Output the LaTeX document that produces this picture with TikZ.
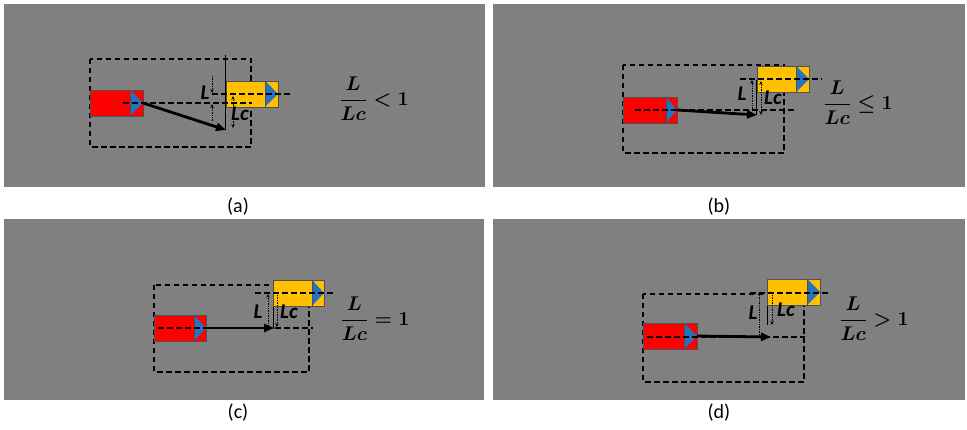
\documentclass[tikz,border=0pt]{standalone}
\usepackage{amsmath}
\usepackage{graphicx}
\usepackage{fontspec}
\newfontfamily\capfont{Carlito}
\usetikzlibrary{arrows.meta}
\definecolor{bggray}{HTML}{808080}
\definecolor{vred}{HTML}{FF0000}
\definecolor{vyel}{HTML}{FFC000}
\definecolor{vblue}{HTML}{2472C0}
\definecolor{vedge}{HTML}{505050}
\tikzset{
  panel/.style={fill=bggray, draw=none},
  veh/.style={draw=vedge, line width=0.8pt, minimum height=26pt, anchor=north west, inner sep=0pt, outer sep=0pt},
  triedge/.style={draw=vedge, line width=0.8pt},
  dline/.style={dash pattern=on 5.5pt off 3.5pt, line width=1.2pt},
  move/.style={line width=2.8pt, -{Triangle[length=10pt,width=8pt]}},
  vline/.style={line width=1pt},
  dimline/.style={line width=0.7pt, densely dotted},
  dimtip/.style={-{Stealth[length=4pt,width=3.5pt]}},
  lab/.style={font=\capfont\bfseries\itshape\fontsize{21}{21}\selectfont, inner sep=0pt},
  frm/.style={font=\fontsize{17.28}{20}\selectfont, inner sep=0pt},
  captext/.style={font=\capfont\fontsize{20}{20}\selectfont, inner sep=0pt}
}
\newcommand\myveh[6]{%
  \node[veh, fill=#5, minimum width=#4pt] (#1) at (#2,#3) {};
  \fill[vblue] ([xshift=-#6pt]#1.north east) -- ([xshift=-#6pt]#1.south east) -- (#1.east) -- cycle;
  \draw[triedge] ([xshift=-#6pt]#1.north east) -- ([xshift=-#6pt]#1.south east);
  \draw[triedge] (#1.north west) rectangle (#1.south east);
}
\newcommand\myfrm[1]{\scalebox{1.15}{$\displaystyle\boldsymbol{#1}$}}
\begin{document}
\begin{tikzpicture}[x=1pt,y=-1pt]
\useasboundingbox (0,0) rectangle (967,430);
\fill[white] (0,0) rectangle (967,430);
% panels
\fill[panel] (4,4) rectangle (485,187);
\fill[panel] (493,4) rectangle (965,187);
\fill[panel] (4,219) rectangle (484,400);
\fill[panel] (493,219) rectangle (965,400);
% captions
\node[captext] (ca) at (238,207) {(a)};
\node[captext] (cb) at (719,207) {(b)};
\node[captext] (cc) at (238,413) {(c)};
\node[captext] (cd) at (719,413) {(d)};

%%%%%%%% (a)
\draw[dline] (90,59) rectangle (251,147);
\draw[vline] (225,55) -- (225,130);
\myveh{ra}{90}{90}{53}{vred}{13}
\myveh{ya}{226}{81}{52}{vyel}{13}
\coordinate (ra1) at (123,103); \coordinate (ra2) at (252,103);
\coordinate (ya1) at (212,94); \coordinate (ya2) at (292,94);
\draw[dline] (ra1) -- (ra2);
\draw[dline] (ya1) -- (ya2);
\coordinate (ea) at (226,130);
\draw[move] (ra.east) -- (ea);
\coordinate (la1) at (212,76); \coordinate (la2) at (212,93);
\coordinate (la3) at (212,121); \coordinate (la4) at (212,104);
\draw[dimline,dimtip] (la1) -- (la2);
\draw[dimline,dimtip] (la3) -- (la4);
\coordinate (lca1) at (233,96); \coordinate (lca2) at (233,128);
\draw[dimline,{Stealth[length=4pt,width=3.5pt]}-{Stealth[length=4pt,width=3.5pt]}] (lca1) -- (lca2);
\node[lab] (La) at (205,93) {L};
\node[lab] (Lca) at (240,114) {Lc};
\node[frm] (fa) at (374,99) {\myfrm{\frac{L}{Lc}<1}};

%%%%%%%% (b)
\draw[dline] (623,65) rectangle (784,153);
\draw[vline] (756,80) -- (756,115);
\myveh{rb}{623}{97}{54}{vred}{11}
\myveh{yb}{757}{66}{52}{vyel}{13}
\coordinate (rb1) at (635,110); \coordinate (rb2) at (797,110);
\coordinate (yb1) at (740,79); \coordinate (yb2) at (822,79);
\draw[dline] (rb1) -- (rb2);
\draw[dline] (yb1) -- (yb2);
\coordinate (eb) at (757,115);
\draw[move] (rb.east) -- (eb);
\coordinate (lb1) at (752,109); \coordinate (lb2) at (752,80);
\draw[dimline,dimtip] (lb1) -- (lb2);
\coordinate (lcb1) at (761,81); \coordinate (lcb2) at (761,115);
\draw[dimline,{Stealth[length=4pt,width=3.5pt]}-{Stealth[length=4pt,width=3.5pt]}] (lcb1) -- (lcb2);
\node[lab] (Lb) at (742,94) {L};
\node[lab] (Lcb) at (773,98) {Lc};
\node[frm] (fb) at (858,103) {\myfrm{\frac{L}{Lc}\leq 1}};

%%%%%%%% (c)
\draw[dline] (154,285) rectangle (309,372);
\draw[vline] (273,305) -- (273,329);
\myveh{rc}{154}{315}{52}{vred}{12}
\myveh{yc}{273}{280}{51}{vyel}{12}
\coordinate (rc1) at (158,328); \coordinate (rc2) at (313,328);
\coordinate (yc1) at (255,293); \coordinate (yc2) at (334,293);
\draw[dline] (rc1) -- (rc2);
\draw[dline] (yc1) -- (yc2);
\coordinate (ec) at (274,328);
\draw[move] (rc.east) -- (ec);
\coordinate (lc1) at (268,329); \coordinate (lc2) at (268,294);
\draw[dimline,dimtip] (lc1) -- (lc2);
\coordinate (lcc1) at (277,295); \coordinate (lcc2) at (277,327);
\draw[dimline,dimtip] (lcc1) -- (lcc2);
\node[lab] (Lc) at (258,312) {L};
\node[lab] (Lcc) at (289,312) {Lc};
\node[frm] (fc) at (375,319) {\myfrm{\frac{L}{Lc}=1}};

%%%%%%%% (d)
\draw[dline] (643,294) rectangle (804,382);
\draw[vline] (767,306) -- (767,325);
\myveh{rd}{643}{323}{54}{vred}{13}
\myveh{yd}{767}{279}{53}{vyel}{13}
\coordinate (rd1) at (647,337); \coordinate (rd2) at (805,337);
\coordinate (yd1) at (750,293); \coordinate (yd2) at (830,293);
\draw[dline] (rd1) -- (rd2);
\draw[dline] (yd1) -- (yd2);
\coordinate (ed) at (771,337);
\draw[move] (rd.east) -- (ed);
\coordinate (ld1) at (759,295); \coordinate (ld2) at (759,337);
\draw[dimline] (ld1) -- (ld2);
\coordinate (lcd1) at (772,295); \coordinate (lcd2) at (772,325);
\draw[dimline,dimtip] (lcd1) -- (lcd2);
\node[lab] (Ld) at (753,313) {L};
\node[lab] (Lcd) at (786,310) {Lc};
\node[frm] (fd) at (874,319) {\myfrm{\frac{L}{Lc}>1}};
\end{tikzpicture}
\end{document}
